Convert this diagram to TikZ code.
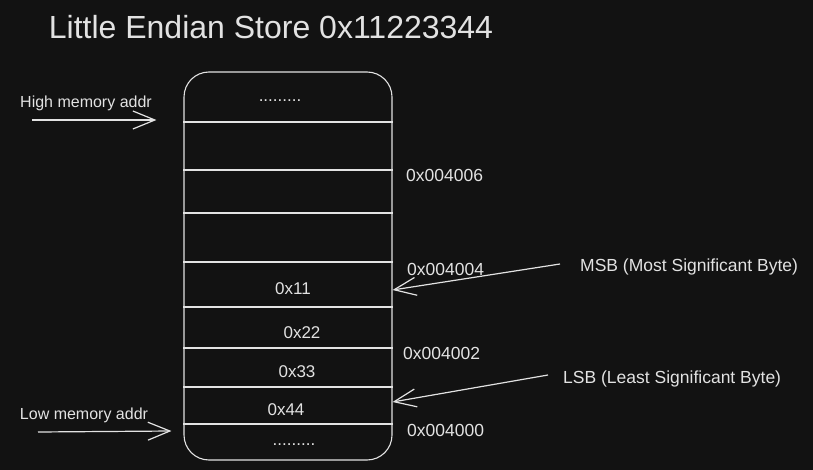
\documentclass[tikz,border=0pt]{standalone}
\usepackage{fontspec}
\setmainfont{Liberation Sans}
\usetikzlibrary{arrows.meta,positioning}
\definecolor{myBg}{HTML}{121212}
\definecolor{myInk}{HTML}{E2E2E2}
\tikzset{
myTitle/.style={
	text=myInk, inner sep=0pt, font=\fontsize{32}{36}\selectfont
}
, myLabel/.style={
	text=myInk, inner sep=0pt, font=\fontsize{16}{18}\selectfont
}
, myNote/.style={
	text=myInk, inner sep=0pt, anchor=west, font=\fontsize{17.5}{20}\selectfont
}
, myAddr/.style={
	text=myInk, inner sep=0pt, anchor=west, font=\fontsize{17.5}{20}\selectfont
}
, myCell/.style={
	text=myInk, inner sep=0pt, font=\fontsize{17}{19}\selectfont
}
, myMem/.style={
	draw=myInk, line width=1.1pt, rectangle, rounded corners=25pt,
	minimum width=208pt, minimum height=388pt, inner sep=0pt
}
% lines
, myLine/.style={draw=myInk, line width=1.3pt}
, myPtr/.style={->, >={Straight Barb[length=22pt,width=18pt]}, draw=myInk, line width=1.2pt}
}
\begin{document}
\begin{tikzpicture}[x=1pt,y=-1pt]
	% background
	\fill[myBg] (0,0) rectangle (813,470);
	\useasboundingbox (0,0) rectangle (813,470);
	% title
	\node[myTitle] (Title) at (271,27) {Little Endian Store 0x11223344};
	% memory
	\node[myMem] (Mem) at (288,266) {};
	\foreach \y in {122,170,213,262,307,348,387,424}
		\draw[myLine] (Mem.west |- 0,\y) -- (Mem.east |- 0,\y);
	% cells
	\node[myCell] (DotsTop) at (280,101) {.........};
	\node[myCell] (C11) at (293,289) {0x11};
	\node[myCell] (C22) at (302,333) {0x22};
	\node[myCell] (C33) at (297,372) {0x33};
	\node[myCell] (C44) at (286,410) {0x44};
	\node[myCell] (DotsBot) at (294,445) {.........};
	% addresses
	\node[myAddr] (A4006) at (406,175) {0x004006};
	\node[myAddr] (A4004) at (407,269) {0x004004};
	\node[myAddr] (A4002) at (403,353) {0x004002};
	\node[myAddr] (A4000) at (407,430) {0x004000};
	% labels
	\node[myLabel] (High) at (86,103) {High memory addr};
	\node[myLabel] (Low) at (84,415) {Low memory addr};
	\node[myNote] (Msb) at (580,267) {MSB (Most Significant Byte)};
	\node[myNote] (Lsb) at (563,379) {LSB (Least Significant Byte)};
	% links
	\coordinate (HighFrom) at (32,120);
	\coordinate (LowFrom) at (38,432);
	\coordinate (MsbFrom) at (560,264);
	\coordinate (LsbFrom) at (548,375);
	\draw[myPtr] (HighFrom) -- ([xshift=-27pt]Mem.west |- 0,120);
	\draw[myPtr] (LowFrom) -- ([xshift=-12pt]Mem.west |- 0,431);
	\draw[myPtr] (MsbFrom) -- (Mem.east |- 0,290);
	\draw[myPtr] (LsbFrom) -- (Mem.east |- 0,402);
\end{tikzpicture}
\end{document}
